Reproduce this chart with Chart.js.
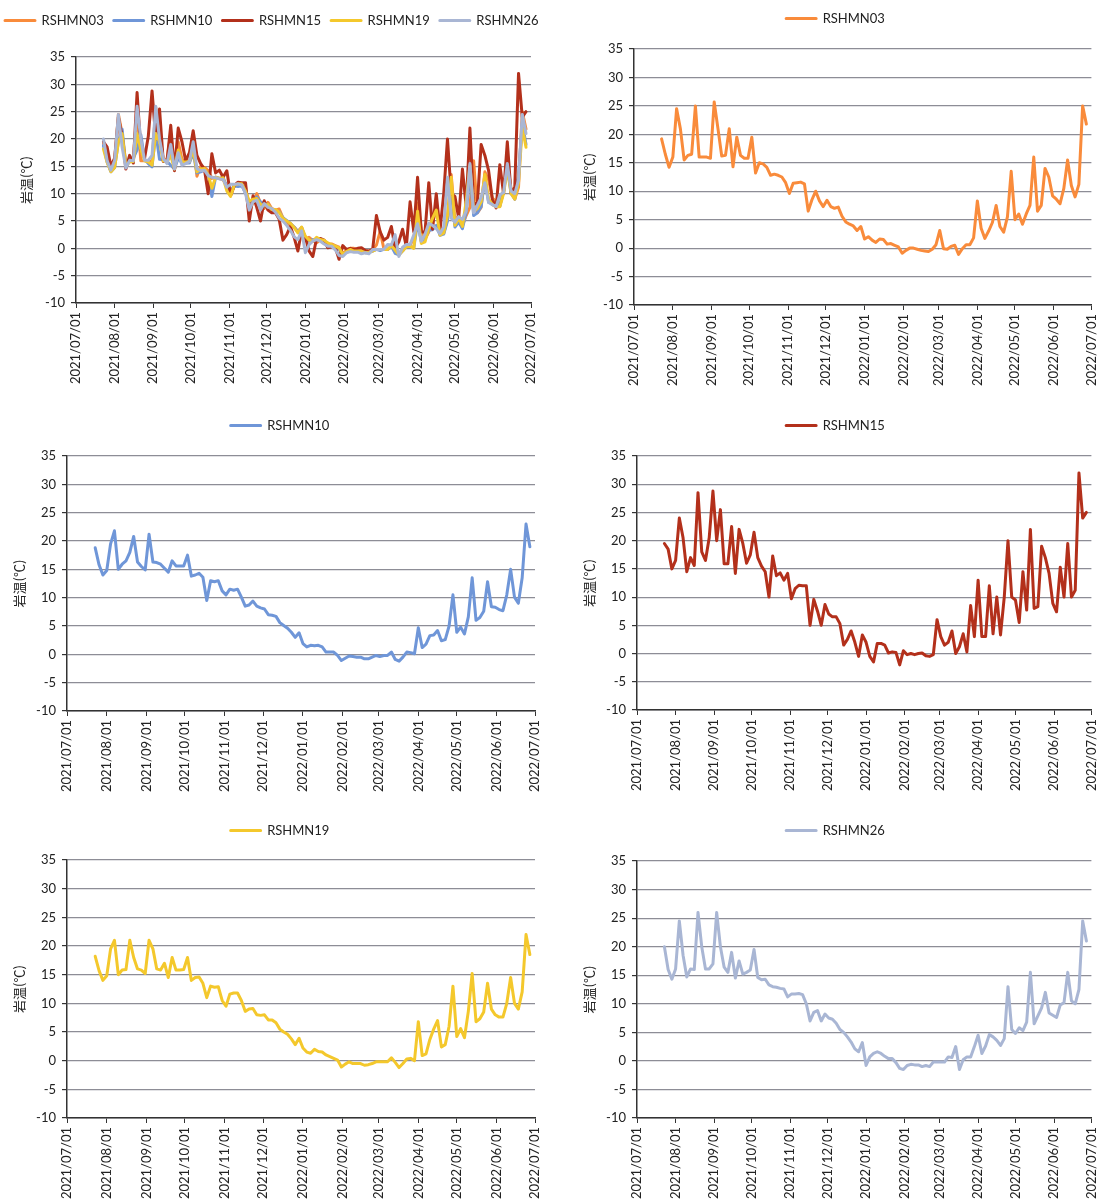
<!DOCTYPE html>
<html>
<head>
<meta charset="utf-8">
<script src="https://cdn.jsdelivr.net/npm/chart.js@4.4.0/dist/chart.umd.min.js"></script>
<style>
html, body { margin: 0; padding: 0; background: #fff; }
body { width: 1111px; height: 1202px; position: relative; overflow: hidden; }
canvas { position: absolute; }
</style>
</head>
<body>
<canvas id="c0" width="565" height="400" style="left:-5px;top:0"></canvas>
<canvas id="c1" width="551" height="400" style="left:560px;top:0"></canvas>
<canvas id="c2" width="560" height="405" style="left:0;top:400px"></canvas>
<canvas id="c3" width="551" height="405" style="left:560px;top:400px"></canvas>
<canvas id="c4" width="560" height="397" style="left:0;top:805px"></canvas>
<canvas id="c5" width="551" height="397" style="left:560px;top:805px"></canvas>
<script>
// sample days: every 3rd day from 2021/07/23
var DAY = 86400000;
var dates = [];
for (var i = 0; i < 114; i++) dates.push(Date.UTC(2021, 6, 23) + i * 3 * DAY);

var monthLabels = ['2021/07/01', '2021/08/01', '2021/09/01', '2021/10/01', '2021/11/01', '2021/12/01',
  '2022/01/01', '2022/02/01', '2022/03/01', '2022/04/01', '2022/05/01', '2022/06/01', '2022/07/01'];
var yTicks = [-10, -5, 0, 5, 10, 15, 20, 25, 30, 35];

var names = ['RSHMN03', 'RSHMN10', 'RSHMN15', 'RSHMN19', 'RSHMN26'];
var colors = ['#F98B3B', '#6F96D8', '#B3301B', '#F4C82C', '#A9B6D4'];

var rshmn03 = [
  19.2, 16.5, 14.2, 16.0, 24.5, 21.0, 15.5, 16.3, 16.5, 25.0,
  16.0, 16.0, 16.0, 15.8, 25.7, 21.0, 16.2, 16.3, 21.0, 14.3,
  19.5, 16.3, 15.8, 15.8, 19.5, 13.2, 15.0, 14.8, 14.2, 12.8,
  13.0, 12.8, 12.5, 11.5, 9.6, 11.4, 11.5, 11.6, 11.3, 6.5,
  8.5, 10.0, 8.3, 7.3, 8.4, 7.3, 7.0, 7.2, 5.6, 4.6,
  4.2, 3.9, 3.1, 3.8, 1.6, 2.0, 1.4, 1.0, 1.6, 1.5,
  0.7, 0.8, 0.5, 0.2, -0.9, -0.4, 0.0, 0.0, -0.2, -0.4,
  -0.5, -0.6, -0.2, 0.6, 3.1, -0.1, -0.2, 0.3, 0.5, -1.1,
  -0.1, 0.6, 0.6, 1.8, 8.3, 3.5, 1.7, 3.0, 4.5, 7.5,
  3.8, 2.8, 5.5, 13.5, 5.0, 6.0, 4.2, 6.0, 7.5, 16.0,
  6.5, 7.5, 14.0, 12.5, 9.2, 8.6, 7.8, 10.5, 15.5, 11.0,
  9.0, 11.2, 25.0, 21.8
];
var rshmn10 = [
  18.8, 15.8, 14.0, 14.8, 19.5, 21.8, 15.0, 15.9, 16.5, 18.0,
  20.8, 16.3, 15.5, 14.9, 21.2, 16.3, 16.2, 15.9, 15.2, 14.5,
  16.5, 15.6, 15.6, 15.6, 17.5, 13.8, 14.0, 14.3, 13.6, 9.5,
  13.0, 12.8, 13.0, 11.2, 10.5, 11.5, 11.3, 11.5, 10.1, 8.5,
  8.7, 9.4, 8.5, 8.2, 8.0, 7.0, 6.9, 6.7, 5.6, 5.1,
  4.6, 3.9, 3.0, 3.8, 1.9, 1.3, 1.6, 1.5, 1.6, 1.3,
  0.4, 0.4, 0.4, -0.2, -1.1, -0.7, -0.3, -0.4, -0.5, -0.5,
  -0.8, -0.8, -0.5, -0.2, -0.4, -0.2, -0.2, 0.4, -0.9, -1.2,
  -0.5, 0.4, 0.3, 0.1, 4.7, 1.2, 1.8, 3.3, 3.4, 4.2,
  2.4, 2.6, 5.0, 10.5, 3.9, 4.8, 3.6, 6.6, 13.5, 6.0,
  6.5, 7.6, 12.8, 8.4, 8.3, 7.9, 7.7, 10.5, 15.0, 10.1,
  9.0, 13.5, 23.0, 19.0
];
var rshmn15 = [
  19.5, 18.5, 15.0, 16.5, 24.0, 20.5, 14.5, 17.0, 15.6, 28.5,
  18.0, 16.5, 20.5, 28.8, 20.0, 25.5, 15.9, 15.9, 22.5, 14.2,
  22.0, 19.5, 16.0, 17.5, 21.5, 17.0, 15.5, 14.5, 10.0, 17.3,
  13.8, 14.3, 13.0, 14.2, 9.7, 11.5, 12.1, 12.0, 12.0, 5.0,
  9.6, 7.5, 5.0, 8.7, 7.0, 6.5, 6.5, 5.3, 1.5, 2.5,
  4.0, 2.0, -0.5, 3.3, 2.0, -0.5, -1.5, 1.8, 1.8, 1.5,
  0.1, 0.3, 0.2, -2.0, 0.5, -0.2, 0.0, -0.2, 0.0, 0.1,
  -0.4, -0.5, -0.2, 6.0, 3.0, 1.5, 2.0, 4.0, 0.0, 1.2,
  3.5, 0.3, 8.5, 3.0, 13.0, 3.0, 3.0, 12.0, 3.5, 10.0,
  3.3, 10.0, 20.0, 10.0, 9.5, 5.5, 14.5, 7.7, 22.0, 8.0,
  8.3, 19.0, 17.0, 14.2, 8.9, 7.4, 15.3, 10.0, 19.5, 10.0,
  11.2, 32.0, 24.0, 25.0
];
var rshmn19 = [
  18.2, 15.7, 14.0, 14.8, 19.5, 21.0, 15.0, 15.8, 15.9, 21.0,
  18.0, 16.0, 15.8, 15.2, 21.0, 19.5, 16.0, 15.8, 17.0, 14.5,
  18.0, 15.8, 15.8, 15.9, 18.0, 14.0, 14.5, 14.6, 13.5, 11.0,
  13.0, 12.8, 12.9, 10.5, 9.5, 11.6, 11.8, 11.8, 10.5, 8.6,
  9.0, 9.1, 8.0, 7.9, 8.0, 7.1, 7.1, 6.6, 5.5, 5.0,
  4.6, 3.8, 2.8, 3.9, 2.2, 1.5, 1.3, 2.0, 1.6, 1.5,
  1.0, 0.7, 0.4, 0.1, -1.1, -0.6, -0.2, -0.5, -0.5, -0.5,
  -0.8, -0.7, -0.5, -0.2, -0.2, -0.2, -0.2, 0.5, -0.3, -1.2,
  -0.5, 0.3, 0.4, 0.0, 6.8, 0.9, 1.2, 3.7, 5.5, 7.0,
  2.4, 2.8, 6.0, 13.0, 4.2, 5.6, 4.0, 8.6, 15.2, 6.8,
  7.3, 8.5, 13.5, 9.0, 8.0, 7.6, 7.6, 10.0, 14.5, 10.0,
  9.0, 12.0, 22.0, 18.5
];
var rshmn26 = [
  20.0, 16.0, 14.3, 16.1, 24.5, 18.5, 14.7, 16.1, 16.0, 26.0,
  20.0, 16.1, 16.1, 17.0, 26.0, 20.0, 16.4, 15.5, 19.0, 14.5,
  17.5, 15.2, 15.5, 15.9, 19.5, 14.6, 14.2, 14.3, 13.3, 13.0,
  12.9, 12.7, 12.6, 11.2, 11.7, 11.7, 11.8, 11.6, 10.0, 7.0,
  8.5, 8.8, 7.0, 8.2, 7.5, 7.3, 6.6, 5.5, 5.0, 4.2,
  3.3, 2.1, 1.6, 3.2, -0.8, 0.7, 1.3, 1.6, 1.3, 0.8,
  0.4, 0.4, -0.3, -1.3, -1.5, -0.8, -0.6, -0.7, -0.7, -1.0,
  -0.8, -1.0, -0.2, -0.2, -0.2, -0.2, 0.7, 0.6, 2.5, -1.5,
  0.2, 0.7, 0.7, 2.5, 4.5, 1.3, 2.6, 4.6, 4.2, 3.6,
  2.7, 3.9, 13.0, 5.5, 4.8, 5.8, 5.3, 6.8, 15.5, 6.5,
  7.9, 9.3, 12.0, 8.4, 8.0, 7.6, 9.8, 10.2, 15.5, 10.5,
  10.0, 12.5, 24.5, 21.0
];
var series = [rshmn03, rshmn10, rshmn15, rshmn19, rshmn26];

function toTime(label) { return Date.parse(label.replace(/\//g, '-')); }
var monthVals = monthLabels.map(toTime);

var textColor = '#222';
var tickFont = { family: 'Lato, "Noto Sans CJK JP", sans-serif', size: 13 };

// spacer axis: reserves room on one side of the plot without drawing anything
function spacer(axis, position, size) {
  return {
    type: 'linear', axis: axis, position: position, display: true,
    grid: { display: false }, border: { display: false }, ticks: { display: false },
    afterFit: function (s) { if (axis === 'x') s.height = size; else s.width = size; }
  };
}

function makeChart(id, idxs, lay) {
  var ds = idxs.map(function (k, j) {
    return {
      label: names[k],
      data: series[k].map(function (v, i) { return { x: dates[i], y: v }; }),
      borderColor: colors[k],
      backgroundColor: colors[k],
      borderWidth: 3,
      pointRadius: 0,
      tension: 0,
      borderJoinStyle: 'round',
      borderCapStyle: 'round',
      order: idxs.length - 1 - j,
      xAxisID: 'x',
      yAxisID: 'y'
    };
  });
  return new Chart(document.getElementById(id), {
    type: 'line',
    data: { datasets: ds },
    options: {
      responsive: false,
      animation: false,
      events: [],
      layout: { padding: { left: 0, right: 0, top: lay.top, bottom: 0 } },
      plugins: {
        legend: {
          position: 'top',
          align: lay.align || 'center',
          labels: {
            boxWidth: 30, boxHeight: 0, padding: 10, color: textColor,
            font: { family: 'Lato, sans-serif', size: 13 },
            sort: function (a, b) { return a.datasetIndex - b.datasetIndex; }
          }
        },
        tooltip: { enabled: false }
      },
      scales: {
        x: {
          type: 'linear', position: 'bottom',
          min: monthVals[0], max: monthVals[monthVals.length - 1],
          afterBuildTicks: function (s) { s.ticks = monthVals.map(function (v) { return { value: v }; }); },
          ticks: {
            autoSkip: false, minRotation: 90, maxRotation: 90, padding: 4,
            color: textColor, font: tickFont,
            callback: function (v) { return monthLabels[monthVals.indexOf(v)]; }
          },
          grid: { drawOnChartArea: false, drawTicks: true, tickLength: 5, color: '#333', lineWidth: 1 },
          border: { display: true, color: '#333', width: 1.5 },
          afterFit: function (s) { s.height = lay.xH; }
        },
        gap: spacer('x', 'top', lay.gap),
        right: spacer('y', 'right', lay.right),
        y: {
          min: -10, max: 35,
          afterBuildTicks: function (s) { s.ticks = yTicks.map(function (v) { return { value: v }; }); },
          ticks: { padding: 6, color: textColor, font: tickFont },
          grid: { color: '#8d8d96', lineWidth: 1.2, tickLength: 5, tickColor: '#333' },
          border: { display: true, color: '#333', width: 1.5 },
          title: {
            display: true, text: '岩温(℃)', color: textColor, padding: { top: lay.titleX, bottom: 4 },
            font: { family: '"Noto Sans CJK JP", sans-serif', size: 13 }
          },
          afterFit: function (s) { s.width = lay.yW; }
        }
      }
    }
  });
}

makeChart('c0', [0, 1, 2, 3, 4], { top: 4, yW: 81, titleX: 23, right: 29, xH: 97, gap: 20, align: 'start' });
makeChart('c1', [0], { top: 2, yW: 74, titleX: 21, right: 8, xH: 95, gap: 14 });
makeChart('c2', [1], { top: 9, yW: 67, titleX: 11, right: 25, xH: 94, gap: 14 });
makeChart('c3', [2], { top: 9, yW: 77, titleX: 21, right: 7, xH: 95, gap: 14 });
makeChart('c4', [3], { top: 9, yW: 67, titleX: 11, right: 25, xH: 84, gap: 13 });
makeChart('c5', [4], { top: 9, yW: 77, titleX: 21, right: 7, xH: 84, gap: 14 });
</script>
</body>
</html>
